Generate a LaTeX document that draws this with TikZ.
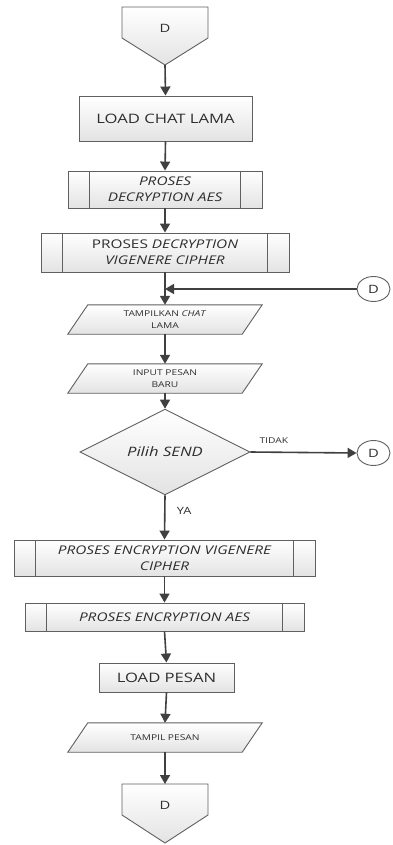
\documentclass[tikz,border=0pt]{standalone}
\usepackage{fontspec}
\setmainfont[FakeStretch=1.28]{Open Sans}
\usetikzlibrary{arrows.meta,shapes.geometric,calc,backgrounds}
\definecolor{linec}{HTML}{404040}
\definecolor{boxc}{HTML}{606060}
\definecolor{txtc}{HTML}{2E2E2E}
\begin{document}
\begin{tikzpicture}[x=1pt,y=-1pt,
  box/.style={draw=boxc, line width=0.9pt, top color=white, bottom color=black!11, text=txtc, align=center, inner sep=0pt},
  plain/.style={text=txtc, align=center, inner sep=0pt},
  shapefill/.style={draw=boxc, line width=0.9pt, top color=white, bottom color=black!11},
  inner/.style={draw=boxc, line width=0.9pt},
  arr/.style={draw=linec, line width=1.6pt, -{Triangle[width=10pt,length=9pt]}},
  big/.style={font=\fontsize{13}{16}\selectfont},
  mid/.style={font=\fontsize{12}{16}\selectfont},
  small/.style={font=\fontsize{8}{12.5}\selectfont},
  conn/.style={draw=boxc, line width=0.9pt, fill=white, ellipse, minimum width=33pt, minimum height=25pt, inner sep=0pt, text=txtc, font=\fontsize{11.5}{12}\selectfont}
]
\useasboundingbox (0,0) rectangle (392,845);

% nodes
\node[plain, font=\fontsize{11.5}{12}\selectfont] (topD) at (165,28) {D};
\node[box, big, minimum width=173pt, minimum height=45pt] (load) at (165.5,118.5) {LOAD CHAT LAMA};
\node[box, mid, minimum width=194pt, minimum height=37pt] (aesd) at (165,189.5) {\itshape PROSES\\\itshape DECRYPTION AES};
\node[box, mid, minimum width=248pt, minimum height=39pt] (vigd) at (165,252.5) {PROSES \textit{DECRYPTION}\\\itshape VIGENERE CIPHER};
\node[plain, small, minimum width=194pt, minimum height=29pt] (tamp) at (165,319.5) {TAMPILKAN \textit{CHAT}\\LAMA};
\node[plain, small, minimum width=194pt, minimum height=29pt] (input) at (165,378.5) {INPUT PESAN\\BARU};
\node[box, diamond, minimum width=170pt, minimum height=58pt, font=\fontsize{13}{16}\selectfont\itshape] (dec) at (165,452) {Pilih SEND};
\node[box, mid, minimum width=301pt, minimum height=36pt] (vige) at (164.5,558) {\itshape PROSES ENCRYPTION VIGENERE\\\itshape CIPHER};
\node[box, mid, minimum width=279pt, minimum height=28pt] (aese) at (164.5,617) {\itshape PROSES ENCRYPTION AES};
\node[box, big, minimum width=135pt, minimum height=29pt] (loadp) at (166.5,677.5) {LOAD PESAN};
\node[plain, small, minimum width=194pt, minimum height=29pt] (tampil) at (165,737.5) {TAMPIL PESAN};
\node[plain, font=\fontsize{11.5}{12}\selectfont] (botD) at (165,805) {D};
\node[conn] (d1) at (373.5,289) {D};
\node[conn] (d2) at (373.5,453) {D};

% coordinates
\coordinate (topDtip) at ($(topD)+(0,37)$);
\coordinate (botDtop) at ($(botD)+(0,-21)$);
\coordinate (j1) at (165,289);

% background shapes
\begin{pgfonlayer}{background}
\path[shapefill] ($(topD)+(-43,-21)$) -- ($(topD)+(43,-21)$) -- ($(topD)+(43,10)$) -- (topDtip) -- ($(topD)+(-43,10)$) -- cycle;
\path[shapefill] (botDtop) ++(-43,0) -- ++(86,0) -- ($(botD)+(43,10)$) -- ($(botD)+(0,38)$) -- ($(botD)+(-43,10)$) -- cycle;
\path[shapefill] (tamp.south west) -- ([xshift=20pt]tamp.north west) -- (tamp.north east) -- ([xshift=-20pt]tamp.south east) -- cycle;
\path[shapefill] (input.south west) -- ([xshift=20pt]input.north west) -- (input.north east) -- ([xshift=-20pt]input.south east) -- cycle;
\path[shapefill] (tampil.south west) -- ([xshift=20pt]tampil.north west) -- (tampil.north east) -- ([xshift=-20pt]tampil.south east) -- cycle;
\end{pgfonlayer}

% predefined process inner lines
\foreach \n in {aesd,vigd,vige,aese}{
  \draw[inner] ([xshift=22pt]\n.north west) -- ([xshift=22pt]\n.south west);
  \draw[inner] ([xshift=-22pt]\n.north east) -- ([xshift=-22pt]\n.south east);
}

% connectors
\draw[arr] (topDtip) -- (load.north);
\draw[arr] (load.south) -- (aesd.north);
\draw[arr] (aesd.south) -- (vigd.north);
\draw[arr] (vigd.south) -- (tamp.north);
\draw[arr] (d1.west) -- (j1);
\draw[arr] (tamp.south) -- (input.north);
\draw[arr] (input.south) -- (dec.north);
\draw[arr] (dec.east) -- node[pos=0.22, above=5pt, text=txtc, font=\fontsize{8}{10}\selectfont] {TIDAK} (d2.west);
\draw[arr] (dec.south) -- node[pos=0.35, right=8pt, text=txtc, font=\fontsize{10}{12}\selectfont] {YA} (vige.north);
\draw[arr] (vige.south) -- (aese.north);
\draw[arr] (aese.south) -- (loadp.north);
\draw[arr] (loadp.south) -- (tampil.north);
\draw[arr] (tampil.south) -- (botDtop);
\end{tikzpicture}
\end{document}
